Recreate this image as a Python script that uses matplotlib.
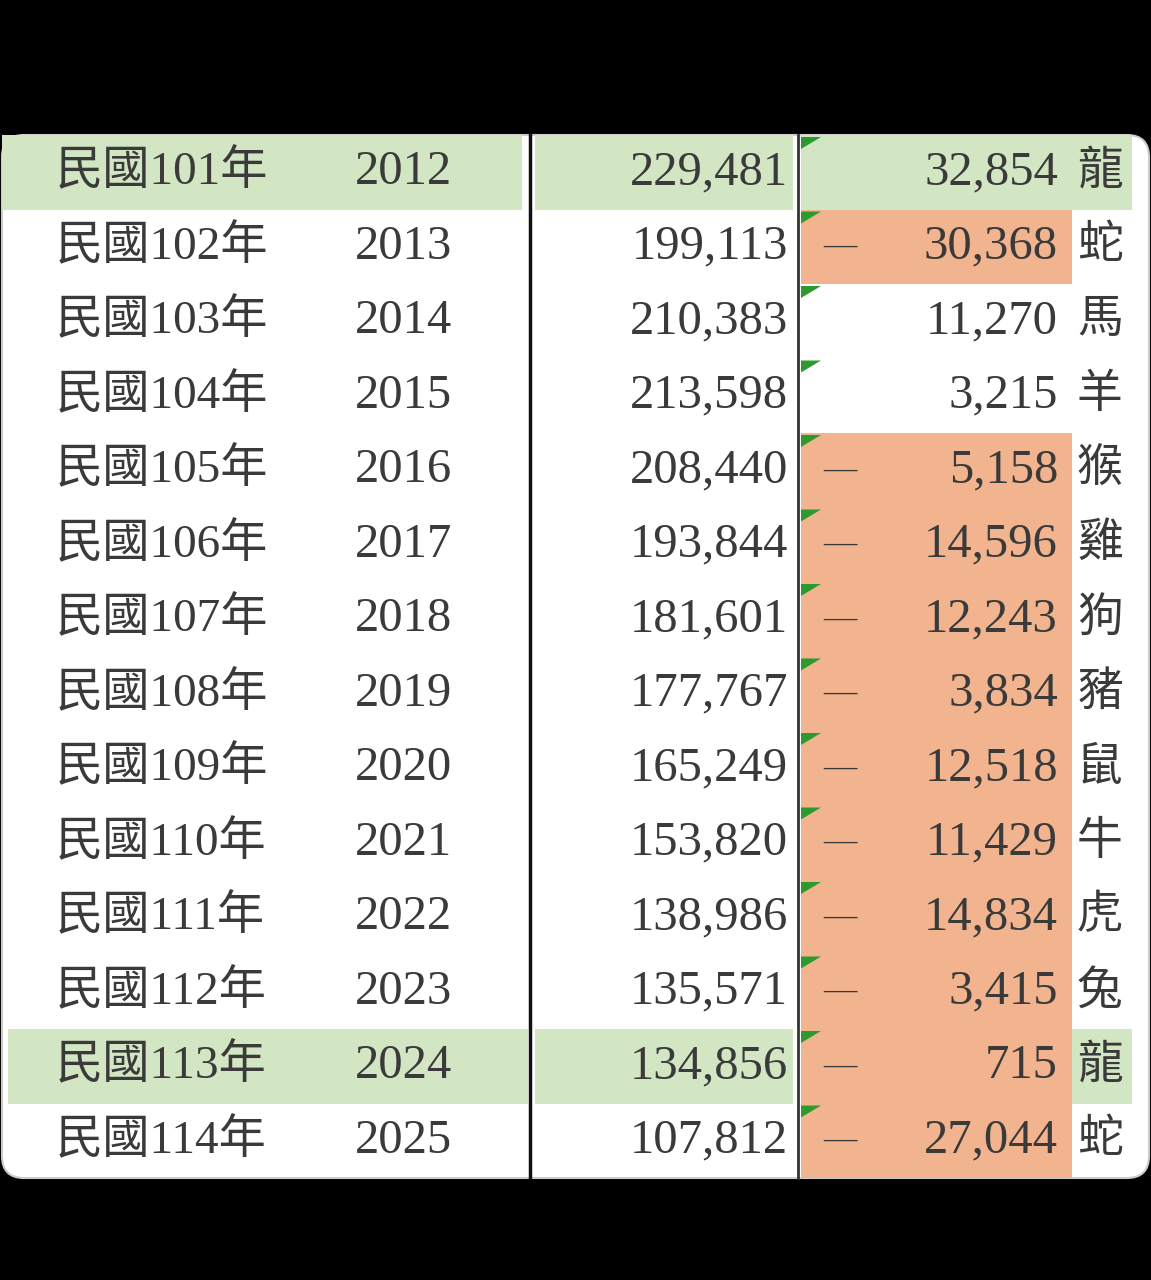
import matplotlib.pyplot as plt
from matplotlib.patches import FancyBboxPatch, Rectangle, Polygon

roc_years = ["民國101年", "民國102年", "民國103年", "民國104年", "民國105年", "民國106年", "民國107年",
             "民國108年", "民國109年", "民國110年", "民國111年", "民國112年", "民國113年", "民國114年"]
years = [2012, 2013, 2014, 2015, 2016, 2017, 2018, 2019, 2020, 2021, 2022, 2023, 2024, 2025]
births = [229481, 199113, 210383, 213598, 208440, 193844, 181601, 177767, 165249, 153820, 138986, 135571, 134856, 107812]
changes = [32854, -30368, 11270, 3215, -5158, -14596, -12243, -3834, -12518, -11429, -14834, -3415, -715, -27044]
zodiac = ["龍", "蛇", "馬", "羊", "猴", "雞", "狗", "豬", "鼠", "牛", "虎", "兔", "龍", "蛇"]
highlight = [0, 12]

W, H = 1151, 1280
fig = plt.figure(figsize=(W / 100, H / 100), dpi=100, facecolor="black")
ax = fig.add_axes([0, 0, 1, 1])
ax.set_xlim(0, W)
ax.set_ylim(H, 0)
ax.axis("off")
ax.set_facecolor("black")

top, bottom = 135, 1178
rh = (bottom - top) / len(years)
ax.add_patch(FancyBboxPatch((2, top), W - 4, bottom - top, boxstyle="round,pad=0,rounding_size=22",
                            fc="white", ec="#cccccc", lw=1.5))

green = "#d3e6c3"
orange = "#f2b48f"
txt = "#3a3a3a"
fam = ["Liberation Serif", "Noto Sans CJK TC"]

for i in range(len(years)):
    y0 = top + i * rh
    yc = y0 + rh / 2
    if i in highlight:
        ax.add_patch(Rectangle((2 if i == 0 else 8, y0), 520, rh, fc=green, ec="none"))
        ax.add_patch(Rectangle((535, y0), 258, rh, fc=green, ec="none"))
        ax.add_patch(Rectangle((1072, y0), 60, rh, fc=green, ec="none"))
    if changes[i] < 0:
        ax.add_patch(Rectangle((801, y0), 271, rh, fc=orange, ec="none"))
    elif i in highlight:
        ax.add_patch(Rectangle((801, y0), 271, rh, fc=green, ec="none"))
    ax.add_patch(Polygon([(801, y0 + 2), (821, y0 + 2), (801, y0 + 14)], closed=True, fc="#2e9a2e", ec="none"))

    ax.text(56, yc, roc_years[i], ha="left", va="center", fontsize=34, color=txt, family=fam)
    ax.text(355, yc, str(years[i]), ha="left", va="center", fontsize=35, color=txt, family=fam)
    ax.text(788, yc, f"{births[i]:,}", ha="right", va="center", fontsize=35, color=txt, family=fam)
    if changes[i] < 0:
        ax.text(840, yc, "—", ha="center", va="center", fontsize=24, color=txt, family=fam)
    ax.text(1058, yc, f"{abs(changes[i]):,}", ha="right", va="center", fontsize=35, color=txt, family=fam)
    ax.text(1077, yc, zodiac[i], ha="left", va="center", fontsize=33, color=txt, family=fam)

ax.plot([530, 530], [top, bottom], color="#111111", lw=2.5)
ax.plot([798, 798], [top, bottom], color="#333333", lw=2)

fig.savefig("out.png", dpi=100, facecolor="black")
